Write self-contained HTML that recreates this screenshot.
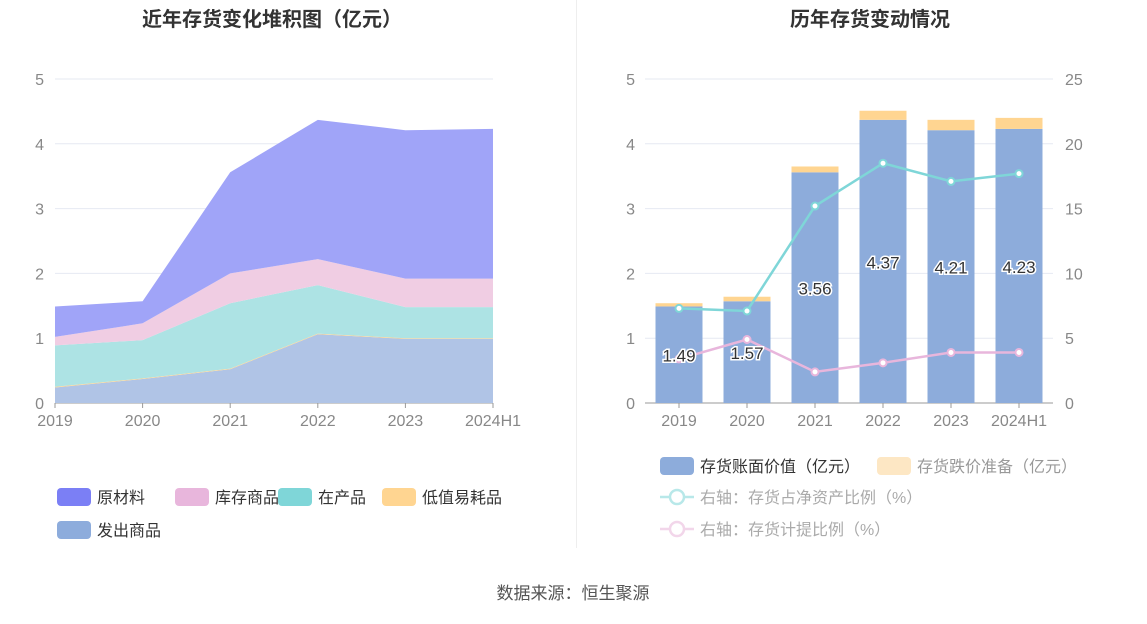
<!DOCTYPE html>
<html><head><meta charset="utf-8">
<style>
body{margin:0;background:#fff;font-family:"Liberation Sans","Noto Sans CJK SC",sans-serif;}
svg text{font-family:"Liberation Sans","Noto Sans CJK SC",sans-serif;}
</style></head>
<body>
<svg id="c" width="1147" height="619" viewBox="0 0 1147 619" xmlns="http://www.w3.org/2000/svg">
<text x="272" y="26" text-anchor="middle" font-size="20" font-weight="bold" fill="#333">近年存货变化堆积图（亿元）</text>
<text x="870" y="26" text-anchor="middle" font-size="20" font-weight="bold" fill="#333">历年存货变动情况</text>
<line x1="576.5" y1="0" x2="576.5" y2="548" stroke="#eee"/>
<text x="573" y="599" text-anchor="middle" font-size="17" fill="#555">数据来源：恒生聚源</text>
<g id="left"></g>
<g id="right"></g>
<g id="legends"></g>
</svg>
<script>
const cats=["2019","2020","2021","2022","2023","2024H1"];
const faChu=[0.24,0.37,0.52,1.06,0.99,0.99];
const diZhi=[0.01,0.01,0.01,0.01,0.01,0.01];
const zaiChan=[0.64,0.59,1.01,0.75,0.48,0.48];
const kuCun=[0.13,0.26,0.46,0.40,0.44,0.44];
const yuanCai=[0.47,0.34,1.56,2.15,2.29,2.31];
const bookValue=[1.49,1.57,3.56,4.37,4.21,4.23];
const provision=[0.05,0.07,0.09,0.14,0.16,0.17];
const ratioNet=[7.3,7.1,15.2,18.5,17.1,17.7];
const ratioProv=[3.4,4.9,2.4,3.1,3.9,3.9];
const leftTicks=[0,1,2,3,4,5];
const rightTicks=[0,5,10,15,20,25];
const NS="http://www.w3.org/2000/svg";
function mk(p,t,a){const e=document.createElementNS(NS,t);for(const k in a)e.setAttribute(k,a[k]);p.appendChild(e);return e;}
const y=v=>403-v*64.8, yR=v=>403-v*12.96;
const L=document.getElementById('left'),R=document.getElementById('right'),G=document.getElementById('legends');
const xL=i=>55+i*87.6, xR=i=>679+i*68;
// left grid
leftTicks.forEach(t=>{
 const l=mk(L,'line',{x1:55,x2:493,y1:y(t),y2:y(t),stroke:t?'#e6e9f2':'#999'});
 
 const tx=mk(L,'text',{x:44,y:y(t)+6,'text-anchor':'end','font-size':16,fill:'#888'});tx.textContent=t;
 
});
const series=[[faChu,'#b0c4e6','fachu'],[diZhi,'#ffd591','dizhi'],[zaiChan,'#ade3e4','zaichan'],[kuCun,'#f0cde3','kucun'],[yuanCai,'#a0a4f8','yuancai']];
let base=cats.map(()=>0);
series.forEach(s=>{
 const top=base.map((b,i)=>b+s[0][i]);
 let d='M'+top.map((v,i)=>xL(i)+','+y(v)).join('L');
 for(let i=cats.length-1;i>=0;i--)d+='L'+xL(i)+','+y(base[i]);
 const p=mk(L,'path',{d:d+'Z',fill:s[1]});
 
 base=top;
});
cats.forEach((c,i)=>{
 mk(L,'line',{x1:xL(i),x2:xL(i),y1:403,y2:408,stroke:'#999'});
 const t=mk(L,'text',{x:xL(i),y:426,'text-anchor':'middle','font-size':16,fill:'#888'});t.textContent=c;
 
});
// right
rightTicks.forEach((t,k)=>{
 const l=mk(R,'line',{x1:645,x2:1053,y1:yR(t),y2:yR(t),stroke:t?'#e6e9f2':'#999'});
 
 const a=mk(R,'text',{x:635,y:yR(t)+6,'text-anchor':'end','font-size':16,fill:'#888'});a.textContent=leftTicks[k];
 
 const b=mk(R,'text',{x:1065,y:yR(t)+6,'font-size':16,fill:'#888'});b.textContent=t;
 
});
cats.forEach((c,i)=>{
 const b=mk(R,'rect',{x:xR(i)-23.5,y:y(bookValue[i]),width:47,height:bookValue[i]*64.8,fill:'#8dacdb'});
 
 const p=mk(R,'rect',{x:xR(i)-23.5,y:y(bookValue[i]+provision[i]),width:47,height:provision[i]*64.8,fill:'#ffd591'});
 
 mk(R,'line',{x1:xR(i),x2:xR(i),y1:403,y2:408,stroke:'#999'});
 const t=mk(R,'text',{x:xR(i),y:426,'text-anchor':'middle','font-size':16,fill:'#888'});t.textContent=c;
 
});
[[ratioNet,'#7fd6d8','line-ratio-net'],[ratioProv,'#e8b6dc','line-ratio-provision']].forEach(s=>{
 const pl=mk(R,'polyline',{points:s[0].map((v,i)=>xR(i)+','+yR(v)).join(' '),fill:'none',stroke:s[1],'stroke-width':2.5});
 
 s[0].forEach((v,i)=>{const c=mk(R,'circle',{cx:xR(i),cy:yR(v),r:3.5,fill:'#fff',stroke:s[1],'stroke-width':2});
  });
});
cats.forEach((c,i)=>{
 const t=mk(R,'text',{x:xR(i),y:y(bookValue[i]/2)+7,'text-anchor':'middle','font-size':17,fill:'#333',stroke:'#fff','stroke-width':3,'paint-order':'stroke'});
 t.textContent=bookValue[i].toFixed(2);
 
});
// legends
const lg=[[57,488,'#7b7ff5','原材料','#333'],[175,488,'#e8b6dc','库存商品','#333'],[278,488,'#7fd6d8','在产品','#333'],[382,488,'#ffd591','低值易耗品','#333'],[57,521,'#8dacdc','发出商品','#333'],[660,457,'#8dacdb','存货账面价值（亿元）','#333'],[877,457,'#fde7c4','存货跌价准备（亿元）','#999']];
lg.forEach(l=>{
 const g=mk(G,'g',{});
 mk(g,'rect',{x:l[0],y:l[1],width:34,height:18,rx:4,fill:l[2]});
 const t=mk(g,'text',{x:l[0]+40,y:l[1]+15,'font-size':16,fill:l[4]});t.textContent=l[3];
});
[[497,'#b8e8e9','右轴：存货占净资产比例（%）'],[529,'#f2d6ea','右轴：存货计提比例（%）']].forEach(l=>{
 const g=mk(G,'g',{});
 mk(g,'line',{x1:660,x2:694,y1:l[0],y2:l[0],stroke:l[1],'stroke-width':2.5});
 mk(g,'circle',{cx:677,cy:l[0],r:7,fill:'#fff',stroke:l[1],'stroke-width':2.5});
 const t=mk(g,'text',{x:700,y:l[0]+6,'font-size':16,fill:'#aaa'});t.textContent=l[2];
});
</script>
</body></html>
